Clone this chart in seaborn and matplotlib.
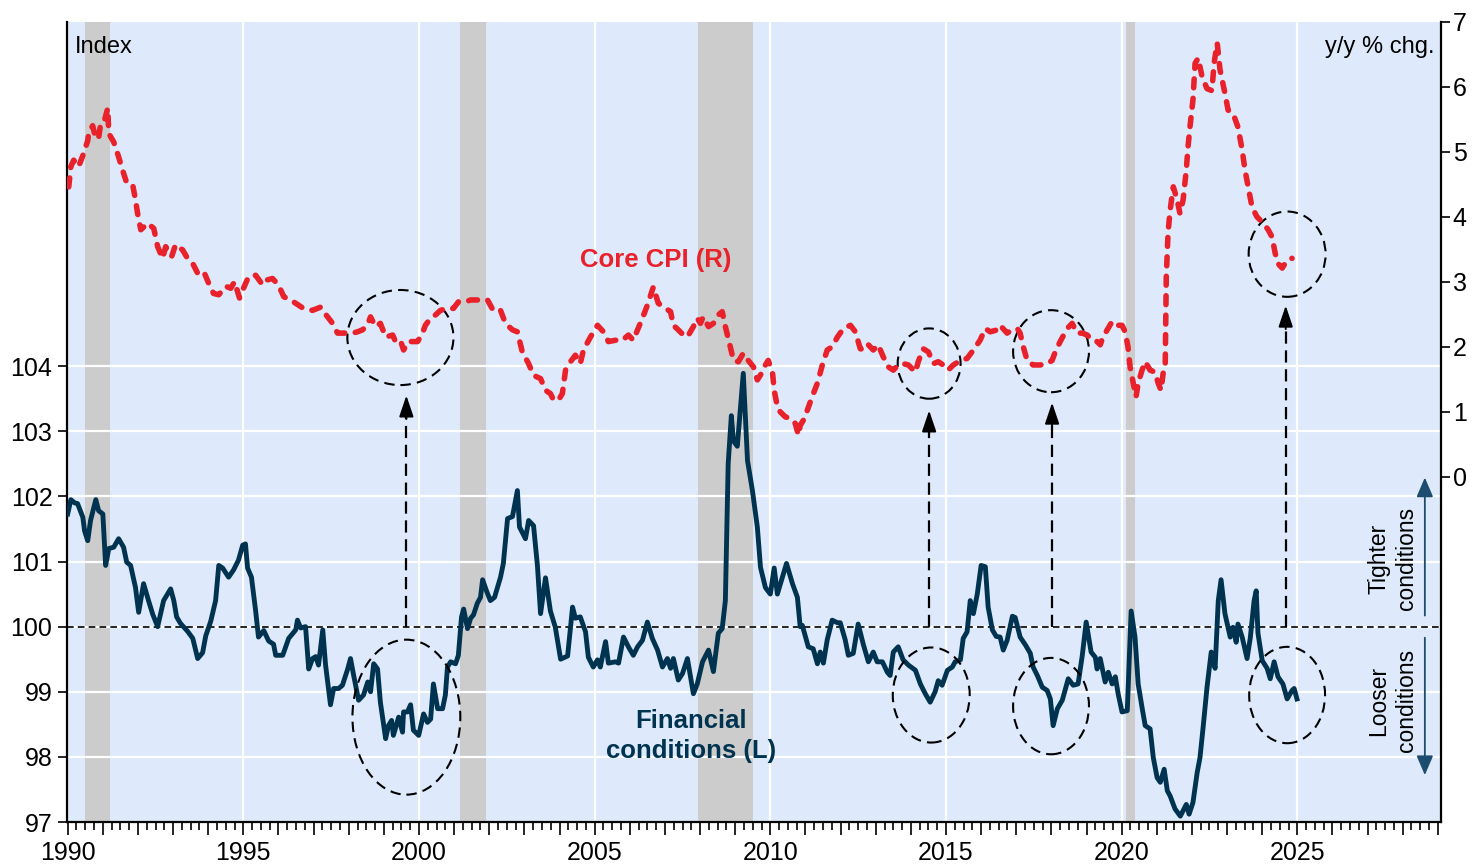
import matplotlib
matplotlib.use("Agg")
import matplotlib.pyplot as plt
import seaborn as sns
import numpy as np
from matplotlib.patches import Ellipse
from matplotlib.ticker import MultipleLocator, FuncFormatter

# ---------------- data ----------------
FCI_YEARS = [1990.00, 1990.09, 1990.20, 1990.28, 1990.43, 1990.48, 1990.57, 1990.65, 1990.80, 1990.88,
             1991.00, 1991.08, 1991.17, 1991.31, 1991.45, 1991.59, 1991.68, 1991.79, 1991.93, 1992.02,
             1992.16, 1992.30, 1992.42, 1992.56, 1992.73, 1992.93, 1993.02, 1993.10, 1993.21, 1993.41,
             1993.56, 1993.70, 1993.84, 1993.93, 1994.07, 1994.21, 1994.30, 1994.41, 1994.58, 1994.72,
             1994.86, 1994.98, 1995.06, 1995.12, 1995.23, 1995.29, 1995.35, 1995.43, 1995.58, 1995.72,
             1995.86, 1995.92, 1996.12, 1996.29, 1996.49, 1996.54, 1996.63, 1996.77, 1996.86, 1996.97,
             1997.06, 1997.14, 1997.26, 1997.34, 1997.48, 1997.57, 1997.71, 1997.82, 1997.97, 1998.05,
             1998.14, 1998.28, 1998.42, 1998.54, 1998.62, 1998.71, 1998.82, 1998.90, 1999.05, 1999.13,
             1999.22, 1999.27, 1999.42, 1999.53, 1999.56, 1999.67, 1999.76, 1999.84, 1999.99, 2000.13,
             2000.24, 2000.33, 2000.41, 2000.53, 2000.67, 2000.75, 2000.81, 2000.90, 2001.04, 2001.12,
             2001.21, 2001.27, 2001.38, 2001.47, 2001.55, 2001.66, 2001.75, 2001.81, 2001.92, 2002.03,
             2002.15, 2002.32, 2002.40, 2002.52, 2002.66, 2002.80, 2002.86, 2003.03, 2003.12, 2003.26,
             2003.37, 2003.46, 2003.60, 2003.74, 2003.88, 2004.03, 2004.23, 2004.37, 2004.45, 2004.59,
             2004.74, 2004.82, 2004.96, 2005.08, 2005.16, 2005.31, 2005.39, 2005.59, 2005.68, 2005.82,
             2005.96, 2006.10, 2006.22, 2006.36, 2006.50, 2006.64, 2006.79, 2006.93, 2007.07, 2007.16,
             2007.24, 2007.38, 2007.50, 2007.64, 2007.81, 2007.92, 2008.07, 2008.24, 2008.38, 2008.52,
             2008.63, 2008.72, 2008.80, 2008.89, 2008.95, 2009.06, 2009.23, 2009.35, 2009.49, 2009.63,
             2009.72, 2009.86, 2010.00, 2010.11, 2010.20, 2010.46, 2010.63, 2010.77, 2010.85, 2010.91,
             2011.08, 2011.22, 2011.34, 2011.42, 2011.51, 2011.62, 2011.76, 2011.91, 2011.99, 2012.13,
             2012.22, 2012.36, 2012.50, 2012.65, 2012.79, 2012.93, 2013.04, 2013.19, 2013.33, 2013.41,
             2013.50, 2013.64, 2013.78, 2013.93, 2014.13, 2014.27, 2014.41, 2014.55, 2014.69, 2014.78,
             2014.89, 2015.04, 2015.18, 2015.26, 2015.41, 2015.49, 2015.60, 2015.69, 2015.78, 2015.89,
             2016.00, 2016.12, 2016.20, 2016.32, 2016.43, 2016.54, 2016.63, 2016.74, 2016.89, 2016.97,
             2017.11, 2017.26, 2017.40, 2017.48, 2017.60, 2017.74, 2017.88, 2017.97, 2018.05, 2018.17,
             2018.31, 2018.48, 2018.62, 2018.76, 2018.88, 2018.99, 2019.13, 2019.25, 2019.30, 2019.39,
             2019.53, 2019.62, 2019.73, 2019.82, 2019.90, 2020.01, 2020.16, 2020.27, 2020.38, 2020.47,
             2020.58, 2020.67, 2020.81, 2020.90, 2021.01, 2021.10, 2021.21, 2021.30, 2021.38, 2021.52,
             2021.67, 2021.84, 2021.92, 2022.03, 2022.15, 2022.23, 2022.32, 2022.43, 2022.55, 2022.66,
             2022.75, 2022.83, 2022.94, 2023.09, 2023.17, 2023.26, 2023.31, 2023.43, 2023.57, 2023.66,
             2023.77, 2023.83, 2023.88, 2024.00, 2024.14, 2024.23, 2024.34, 2024.45, 2024.59, 2024.71,
             2024.85, 2024.91, 2024.99]
FCI_VALUES = [101.73, 101.95, 101.90, 101.89, 101.68, 101.47, 101.32, 101.63, 101.95, 101.78,
              101.73, 100.94, 101.20, 101.22, 101.35, 101.22, 100.99, 100.94, 100.60, 100.22,
              100.66, 100.40, 100.19, 100.00, 100.40, 100.58, 100.40, 100.15, 100.05, 99.93,
              99.82, 99.51, 99.60, 99.86, 100.08, 100.40, 100.94, 100.90, 100.76, 100.87,
              101.02, 101.25, 101.27, 100.90, 100.76, 100.50, 100.24, 99.84, 99.94, 99.78,
              99.73, 99.56, 99.56, 99.82, 99.95, 100.10, 99.98, 100.00, 99.35, 99.51,
              99.54, 99.41, 99.95, 99.41, 98.80, 99.05, 99.05, 99.10, 99.35, 99.51,
              99.25, 98.87, 98.95, 99.15, 99.00, 99.43, 99.35, 98.84, 98.28, 98.48,
              98.56, 98.33, 98.61, 98.38, 98.69, 98.69, 98.80, 98.41, 98.33, 98.66,
              98.53, 98.58, 99.12, 98.74, 98.74, 98.95, 99.38, 99.46, 99.43, 99.56,
              100.15, 100.27, 99.97, 100.13, 100.18, 100.36, 100.45, 100.72, 100.55, 100.40,
              100.45, 100.76, 100.97, 101.66, 101.69, 102.09, 101.53, 101.35, 101.63, 101.55,
              100.94, 100.20, 100.75, 100.24, 99.99, 99.50, 99.55, 100.30, 100.13, 100.15,
              99.92, 99.53, 99.38, 99.49, 99.38, 99.77, 99.44, 99.46, 99.44, 99.84,
              99.69, 99.56, 99.69, 99.79, 100.07, 99.82, 99.64, 99.38, 99.51, 99.36,
              99.51, 99.18, 99.28, 99.51, 98.97, 99.12, 99.46, 99.64, 99.31, 99.90,
              99.97, 100.40, 102.50, 103.24, 102.85, 102.77, 103.89, 102.55, 102.09, 101.53,
              100.91, 100.60, 100.50, 100.90, 100.50, 100.97, 100.66, 100.45, 100.00, 100.02,
              99.69, 99.66, 99.43, 99.61, 99.44, 99.80, 100.10, 100.06, 100.06, 99.80,
              99.56, 99.59, 100.04, 99.72, 99.46, 99.61, 99.46, 99.46, 99.30, 99.25,
              99.61, 99.69, 99.49, 99.41, 99.33, 99.12, 98.97, 98.84, 99.00, 99.17,
              99.10, 99.33, 99.38, 99.46, 99.49, 99.82, 99.92, 100.40, 100.20, 100.50,
              100.94, 100.92, 100.30, 99.95, 99.85, 99.84, 99.64, 99.79, 100.16, 100.14,
              99.84, 99.72, 99.59, 99.38, 99.25, 99.07, 99.02, 98.89, 98.48, 98.74,
              98.87, 99.20, 99.10, 99.12, 99.56, 100.07, 99.61, 99.53, 99.35, 99.51,
              99.15, 99.30, 99.12, 99.23, 98.97, 98.69, 98.71, 100.24, 99.84, 99.12,
              98.76, 98.48, 98.43, 97.99, 97.68, 97.61, 97.81, 97.48, 97.40, 97.20,
              97.09, 97.27, 97.12, 97.30, 97.76, 97.99, 98.46, 99.07, 99.61, 99.36,
              100.40, 100.72, 100.20, 99.84, 99.99, 99.76, 100.04, 99.84, 99.51, 99.82,
              100.40, 100.55, 99.90, 99.48, 99.36, 99.20, 99.46, 99.23, 99.12, 98.89,
              99.02, 99.05, 98.89]

CPI_YEARS = [1990.03, 1990.09, 1990.17, 1990.31, 1990.43, 1990.57, 1990.60, 1990.71, 1990.80, 1990.88,
             1990.94, 1991.05, 1991.14, 1991.17, 1991.31, 1991.45, 1991.56, 1991.68, 1991.85, 1991.93,
             1991.99, 1992.08, 1992.28, 1992.45, 1992.56, 1992.70, 1992.79, 1992.96, 1993.07, 1993.27,
             1993.41, 1993.56, 1993.70, 1993.87, 1994.01, 1994.15, 1994.30, 1994.50, 1994.64, 1994.75,
             1994.89, 1994.98, 1995.15, 1995.35, 1995.55, 1995.69, 1995.83, 1996.00, 1996.15, 1996.43,
             1996.71, 1996.97, 1997.20, 1997.34, 1997.54, 1997.68, 1997.85, 1998.11, 1998.25, 1998.39,
             1998.53, 1998.62, 1998.76, 1998.90, 1999.05, 1999.25, 1999.33, 1999.47, 1999.56, 1999.70,
             1999.96, 2000.10, 2000.18, 2000.33, 2000.47, 2000.61, 2000.81, 2000.98, 2001.12, 2001.32,
             2001.47, 2001.75, 2001.95, 2002.12, 2002.32, 2002.46, 2002.66, 2002.80, 2002.94, 2003.12,
             2003.26, 2003.46, 2003.60, 2003.74, 2003.83, 2003.97, 2004.08, 2004.17, 2004.31, 2004.45,
             2004.59, 2004.68, 2004.88, 2005.08, 2005.25, 2005.39, 2005.59, 2005.79, 2005.96, 2006.10,
             2006.22, 2006.36, 2006.50, 2006.67, 2006.81, 2006.96, 2007.16, 2007.24, 2007.38, 2007.58,
             2007.67, 2007.81, 2007.92, 2008.01, 2008.09, 2008.24, 2008.38, 2008.52, 2008.63, 2008.72,
             2008.86, 2008.95, 2009.09, 2009.23, 2009.37, 2009.52, 2009.63, 2009.77, 2009.86, 2009.94,
             2010.06, 2010.11, 2010.20, 2010.28, 2010.43, 2010.57, 2010.71, 2010.80, 2010.85, 2010.94,
             2011.05, 2011.19, 2011.34, 2011.48, 2011.62, 2011.76, 2011.91, 2012.08, 2012.28, 2012.42,
             2012.56, 2012.70, 2012.79, 2012.93, 2013.07, 2013.21, 2013.36, 2013.50, 2013.64, 2013.78,
             2013.93, 2014.13, 2014.21, 2014.35, 2014.50, 2014.64, 2014.78, 2014.92, 2015.06, 2015.21,
             2015.41, 2015.60, 2015.78, 2015.97, 2016.12, 2016.26, 2016.46, 2016.54, 2016.74, 2016.88,
             2017.03, 2017.11, 2017.20, 2017.31, 2017.48, 2017.68, 2017.88, 2018.02, 2018.11, 2018.25,
             2018.45, 2018.59, 2018.73, 2018.88, 2019.02, 2019.16, 2019.30, 2019.39, 2019.47, 2019.59,
             2019.73, 2019.87, 2020.01, 2020.10, 2020.18, 2020.24, 2020.33, 2020.41, 2020.47, 2020.58,
             2020.67, 2020.81, 2020.95, 2021.04, 2021.12, 2021.18, 2021.24, 2021.27, 2021.32, 2021.38,
             2021.47, 2021.58, 2021.66, 2021.75, 2021.84, 2021.89, 2021.95, 2022.03, 2022.09, 2022.18,
             2022.29, 2022.43, 2022.57, 2022.63, 2022.72, 2022.80, 2022.94, 2023.03, 2023.17, 2023.31,
             2023.43, 2023.51, 2023.60, 2023.71, 2023.85, 2024.03, 2024.17, 2024.28, 2024.37, 2024.45,
             2024.57, 2024.65, 2024.79, 2024.85]
CPI_VALUES = [4.46, 4.77, 4.87, 4.77, 4.94, 5.17, 5.30, 5.40, 5.20, 5.21,
              5.44, 5.49, 5.67, 5.28, 5.15, 4.92, 4.72, 4.52, 4.49, 4.26,
              4.05, 3.80, 3.90, 3.82, 3.54, 3.36, 3.54, 3.39, 3.57, 3.49,
              3.36, 3.28, 3.13, 3.16, 2.98, 2.82, 2.80, 2.93, 2.90, 3.00,
              2.75, 2.87, 3.08, 3.10, 2.95, 3.03, 3.05, 2.95, 2.77, 2.69,
              2.59, 2.56, 2.61, 2.50, 2.36, 2.21, 2.21, 2.21, 2.23, 2.26,
              2.33, 2.46, 2.31, 2.36, 2.15, 2.18, 2.08, 2.10, 1.95, 2.08,
              2.08, 2.21, 2.33, 2.44, 2.49, 2.56, 2.59, 2.59, 2.69, 2.69,
              2.72, 2.72, 2.72, 2.55, 2.56, 2.36, 2.26, 2.23, 1.92, 1.74,
              1.56, 1.51, 1.33, 1.28, 1.18, 1.18, 1.28, 1.64, 1.77, 1.87,
              1.74, 1.95, 2.15, 2.33, 2.23, 2.08, 2.10, 2.10, 2.18, 2.10,
              2.26, 2.44, 2.64, 2.92, 2.67, 2.61, 2.54, 2.33, 2.26, 2.15,
              2.18, 2.31, 2.44, 2.36, 2.46, 2.31, 2.36, 2.49, 2.54, 2.31,
              2.00, 1.79, 1.77, 1.90, 1.79, 1.69, 1.49, 1.61, 1.72, 1.79,
              1.61, 1.33, 1.08, 1.00, 0.92, 0.90, 0.82, 0.64, 0.79, 0.87,
              1.02, 1.23, 1.44, 1.72, 1.95, 2.00, 2.15, 2.28, 2.33, 2.23,
              1.97, 1.95, 2.03, 1.95, 2.03, 1.85, 1.69, 1.64, 1.72, 1.74,
              1.72, 1.61, 1.77, 1.97, 1.92, 1.74, 1.77, 1.72, 1.64, 1.72,
              1.79, 1.82, 1.95, 2.10, 2.28, 2.23, 2.26, 2.33, 2.21, 2.26,
              2.28, 2.21, 2.00, 1.79, 1.72, 1.72, 1.74, 1.79, 1.92, 2.08,
              2.28, 2.36, 2.21, 2.21, 2.18, 2.10, 2.08, 2.03, 2.15, 2.26,
              2.39, 2.33, 2.33, 2.23, 2.00, 1.69, 1.44, 1.23, 1.44, 1.64,
              1.77, 1.64, 1.61, 1.44, 1.33, 1.59, 1.69, 3.07, 3.75, 4.10,
              4.46, 4.26, 4.05, 4.26, 4.72, 5.08, 5.41, 5.80, 6.36, 6.44,
              6.15, 5.97, 5.94, 6.36, 6.67, 6.26, 5.90, 5.64, 5.59, 5.38,
              5.03, 4.72, 4.46, 4.15, 4.00, 3.90, 3.80, 3.69, 3.44, 3.28,
              3.21, 3.28, 3.36, 3.36]

REC_START = [1990.50, 2001.17, 2007.94, 2020.13]
REC_END = [1991.20, 2001.92, 2009.50, 2020.38]

LEFT_TICKS = [97, 98, 99, 100, 101, 102, 103, 104]
RIGHT_TICKS = [0, 1, 2, 3, 4, 5, 6, 7]
GRID_YEARS = [1995, 2000, 2005, 2010, 2015, 2020, 2025]

RED = "#E8212B"
NAVY = "#00334F"
BG = "#DEEAFB"

# ---------------- figure ----------------
plt.rcParams['font.family'] = ['Liberation Sans', 'DejaVu Sans']
W, H = 1484, 866
fig = plt.figure(figsize=(W / 100, H / 100), dpi=100)
ax = fig.add_axes([67 / W, 1 - 822 / H, 1374 / W, (822 - 21.7) / H])
ax.set_facecolor(BG)
ax2 = ax.twinx()
ax2.patch.set_visible(False)

for s, e in zip(REC_START, REC_END):
    ax.axvspan(s, e, color="#CCCCCC", lw=0, zorder=0.2)
for v in LEFT_TICKS:
    ax.axhline(v, color="white", lw=1.6, zorder=0.5)
for yr in GRID_YEARS:
    ax.axvline(yr, color="white", lw=1.6, zorder=0.5)
ax.axhline(100, color="black", lw=1.2, ls=(0, (4, 2.5)), zorder=2)

sns.lineplot(x=FCI_YEARS, y=FCI_VALUES, ax=ax, color=NAVY, lw=3.5, errorbar=None, zorder=3)
sns.lineplot(x=CPI_YEARS, y=CPI_VALUES, ax=ax2, color=RED, lw=4.0, errorbar=None, zorder=3)
cpi_line = ax2.lines[-1]
cpi_line.set_linestyle((0, (1.6, 1.9)))
cpi_line.set_dash_capstyle("round")
cpi_line.set_solid_capstyle("round")

# limits
ax.set_xlim(1989.98, 2029.09)
ax.set_ylim(97, 109.29)
ax2.set_ylim(-5.31, 7)

# ticks
ax.set_yticks(LEFT_TICKS)
ax2.set_yticks(RIGHT_TICKS)
ax.xaxis.set_major_locator(MultipleLocator(1))
ax.xaxis.set_minor_locator(MultipleLocator(0.25))
ax.xaxis.set_major_formatter(FuncFormatter(lambda v, p: f"{int(round(v))}" if int(round(v)) % 5 == 0 else ""))
ax.tick_params(axis="x", which="major", length=9.5, width=1.2, labelsize=18, pad=4, color="black")
ax.tick_params(axis="x", which="minor", length=5.5, width=1.2, color="black")
ax.tick_params(axis="y", length=6.5, width=1.2, labelsize=18, pad=4)
ax2.tick_params(axis="y", length=6.5, width=1.2, labelsize=18, pad=2)
ax.set_xlabel("")
ax.set_ylabel("")
ax2.set_ylabel("")

for sp in ["top", "right"]:
    ax.spines[sp].set_visible(False)
for sp in ["top", "left", "bottom"]:
    ax2.spines[sp].set_visible(False)
for sp in ["left", "bottom"]:
    ax.spines[sp].set_linewidth(1.6)
ax2.spines["right"].set_linewidth(1.6)

# ellipses (left-axis data coords)
ELLIPSES = [((1999.47, 104.44), 3.02, 1.46), ((1999.64, 98.61), 3.07, 2.38),
            ((2014.52, 104.04), 1.79, 1.08), ((2014.58, 98.95), 2.19, 1.46),
            ((2017.99, 104.23), 2.16, 1.26), ((2017.99, 98.78), 2.16, 1.48),
            ((2024.71, 105.72), 2.19, 1.31), ((2024.71, 98.95), 2.16, 1.48)]
for c, w, h in ELLIPSES:
    ax.add_patch(Ellipse(c, w, h, fill=False, ec="black", lw=1.5, ls=(0, (5, 3)), zorder=4))

ARROWS = [(1999.64, 103.55), (2014.52, 103.32), (2018.02, 103.44), (2024.67, 104.93)]
for x, tip in ARROWS:
    ax.plot([x, x], [100, tip - 0.2], color="black", lw=1.6, ls=(0, (5.5, 3)), zorder=4)
    ax.annotate("", xy=(x, tip), xytext=(x, tip - 0.36),
                arrowprops=dict(arrowstyle="-|>,head_length=0.65,head_width=0.22",
                                mutation_scale=20, color="black", lw=1.4, shrinkA=0, shrinkB=0),
                zorder=5)

# tighter / looser arrows
ax.annotate("", xy=(2028.63, 102.29), xytext=(2028.63, 100.17),
            arrowprops=dict(arrowstyle="-|>,head_length=0.7,head_width=0.3", mutation_scale=17,
                            color="#1C4C6E", lw=1.3, shrinkA=0, shrinkB=0), annotation_clip=False)
ax.annotate("", xy=(2028.63, 97.72), xytext=(2028.63, 99.83),
            arrowprops=dict(arrowstyle="-|>,head_length=0.7,head_width=0.3", mutation_scale=17,
                            color="#1C4C6E", lw=1.3, shrinkA=0, shrinkB=0), annotation_clip=False)
ax.text(2027.72, 101.04, "Tighter\nconditions", rotation=90, ha="center", va="center",
        fontsize=16.5, linespacing=1.25, multialignment="center")
ax.text(2027.72, 98.86, "Looser\nconditions", rotation=90, ha="center", va="center",
        fontsize=16.5, linespacing=1.25, multialignment="center")

# labels
ax.text(0.0058, 0.961, "Index", transform=ax.transAxes, fontsize=17, ha="left", va="baseline")
ax.text(0.9956, 0.9603, "y/y % chg.", transform=ax.transAxes, fontsize=17, ha="right", va="baseline")
ax2.text(2006.73, 3.23, "Core CPI (R)", color=RED, fontsize=18.5, fontweight="bold", ha="center", va="baseline")
ax.text(2007.75, 98.44, "Financial", color=NAVY, fontsize=18.5, fontweight="bold", ha="center", va="baseline")
ax.text(2007.75, 97.99, "conditions (L)", color=NAVY, fontsize=18.5, fontweight="bold", ha="center", va="baseline")

fig.savefig("out.png", dpi=100)
